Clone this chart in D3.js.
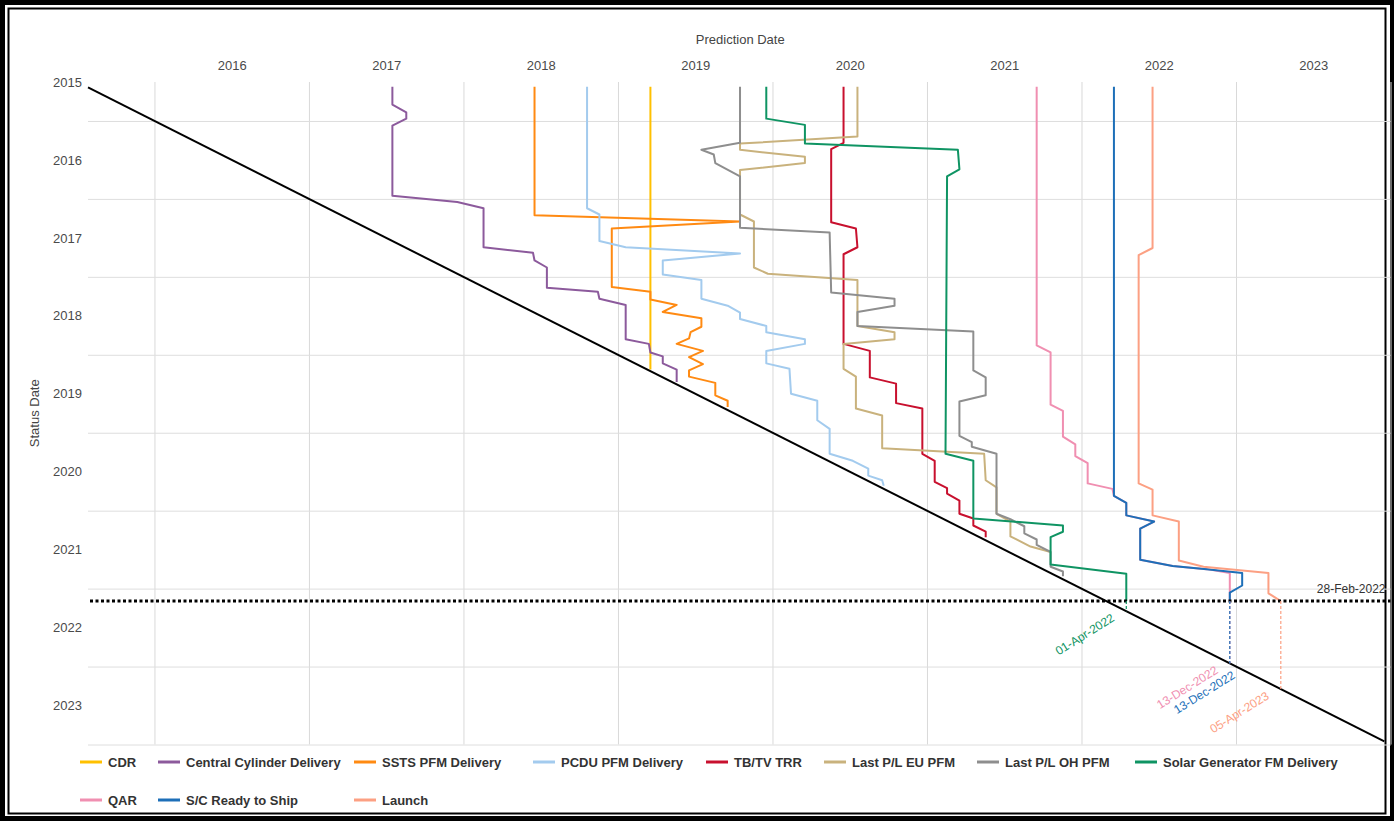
<!DOCTYPE html>
<html>
<head>
<meta charset="utf-8">
<script src="https://cdn.jsdelivr.net/npm/d3@7"></script>
<style>
  html, body { margin: 0; padding: 0; background: #000; }
  svg { display: block; font-family: "Liberation Sans", Arial, sans-serif; }
</style>
</head>
<body>
<svg id="chart" width="1394" height="821"></svg>
<script>
// all dates in decimal years, each point is [status date, predicted date]
var yearLabels = [2015, 2016, 2017, 2018, 2019, 2020, 2021, 2022, 2023]
var gridYears = [2016, 2017, 2018, 2019, 2020, 2021, 2022, 2023, 2024]

var seriesNames = ["CDR", "Central Cylinder Delivery", "SSTS PFM Delivery", "PCDU PFM Delivery",
    "TB/TV TRR", "Last P/L EU PFM", "Last P/L OH PFM", "Solar Generator FM Delivery",
    "QAR", "S/C Ready to Ship", "Launch"]
var seriesColors = ["#ffc000", "#8c5a9c", "#ff8a12", "#a3cbee", "#c8102e", "#c9b27d",
    "#8e8e8e", "#0f9463", "#f08fb1", "#1d6fb8", "#fca083"]

var cdr = [[2015.56,2019.21],[2019.19,2019.21]]
var centralCylinder = [[2015.56,2017.54],[2015.79,2017.54],[2015.89,2017.63],[2015.97,2017.63],[2016.06,2017.54],
    [2016.96,2017.54],[2017.04,2017.96],[2017.12,2018.13],[2017.62,2018.13],[2017.69,2018.45],[2017.79,2018.46],
    [2017.88,2018.54],[2018.14,2018.54],[2018.19,2018.87],[2018.28,2018.88],[2018.36,2019.05],[2018.80,2019.05],
    [2018.86,2019.20],[2018.97,2019.21],[2019.02,2019.29],[2019.11,2019.29],[2019.19,2019.38],[2019.35,2019.38]]
var sstsPfm = [[2015.56,2018.46],[2017.21,2018.46],[2017.29,2019.79],[2017.38,2018.96],[2018.13,2018.96],
    [2018.19,2019.21],[2018.29,2019.21],[2018.36,2019.38],[2018.45,2019.29],[2018.53,2019.54],[2018.64,2019.54],
    [2018.71,2019.47],[2018.79,2019.46],[2018.86,2019.38],[2018.95,2019.55],[2019.03,2019.46],[2019.12,2019.55],
    [2019.20,2019.46],[2019.28,2019.46],[2019.36,2019.63],[2019.52,2019.63],[2019.59,2019.71],[2019.67,2019.71]]
var pcduPfm = [[2015.56,2018.80],[2017.12,2018.80],[2017.20,2018.88],[2017.54,2018.88],[2017.62,2019.05],
    [2017.70,2019.79],[2017.79,2019.29],[2017.97,2019.29],[2018.04,2019.54],[2018.28,2019.54],[2018.37,2019.71],
    [2018.46,2019.79],[2018.54,2019.79],[2018.63,2019.96],[2018.71,2019.96],[2018.80,2020.21],[2018.86,2020.21],
    [2018.95,2019.96],[2019.11,2019.96],[2019.18,2020.11],[2019.50,2020.12],[2019.59,2020.29],[2019.84,2020.29],
    [2019.95,2020.37],[2020.27,2020.37],[2020.36,2020.52],[2020.46,2020.62],[2020.55,2020.62],[2020.61,2020.71],
    [2020.68,2020.72]]
var tbtvTrr = [[2015.56,2020.46],[2016.28,2020.46],[2016.36,2020.38],[2017.30,2020.38],[2017.38,2020.54],
    [2017.62,2020.55],[2017.71,2020.46],[2018.86,2020.46],[2018.95,2020.63],[2019.29,2020.63],[2019.37,2020.80],
    [2019.62,2020.80],[2019.69,2020.97],[2020.27,2020.97],[2020.36,2021.05],[2020.63,2021.05],[2020.71,2021.13],
    [2020.78,2021.13],[2020.87,2021.21],[2021.04,2021.21],[2021.10,2021.30],[2021.19,2021.30],[2021.27,2021.38],
    [2021.34,2021.38]]
var lastEuPfm = [[2015.56,2020.55],[2016.20,2020.55],[2016.29,2019.79],[2016.37,2019.79],[2016.46,2020.21],
    [2016.54,2020.21],[2016.63,2019.79],[2017.20,2019.79],[2017.29,2019.88],[2017.88,2019.88],[2017.96,2019.97],
    [2018.04,2020.55],[2018.63,2020.55],[2018.71,2020.79],[2018.80,2020.79],[2018.86,2020.46],[2019.18,2020.46],
    [2019.28,2020.54],[2019.69,2020.54],[2019.78,2020.71],[2020.20,2020.71],[2020.27,2021.37],[2020.61,2021.38],
    [2020.70,2021.45],[2021.04,2021.45],[2021.14,2021.54],[2021.33,2021.54],[2021.46,2021.67],[2021.53,2021.80]]
var lastOhPfm = [[2015.56,2019.79],[2016.28,2019.79],[2016.37,2019.54],[2016.43,2019.62],[2016.54,2019.63],
    [2016.71,2019.79],[2017.37,2019.79],[2017.43,2020.37],[2018.20,2020.38],[2018.28,2020.79],[2018.37,2020.79],
    [2018.45,2020.55],[2018.63,2020.55],[2018.70,2021.30],[2019.20,2021.30],[2019.29,2021.38],[2019.52,2021.38],
    [2019.60,2021.21],[2020.04,2021.21],[2020.12,2021.29],[2020.18,2021.29],[2020.27,2021.45],[2021.04,2021.45],
    [2021.11,2021.54],[2021.20,2021.63],[2021.29,2021.63],[2021.37,2021.71],[2021.44,2021.71],[2021.53,2021.80],
    [2021.72,2021.80],[2021.78,2021.88],[2021.84,2021.88]]
var solarGenerator = [[2015.56,2019.96],[2015.97,2019.96],[2016.05,2020.21],[2016.29,2020.21],[2016.37,2021.20],
    [2016.62,2021.21],[2016.71,2021.13],[2020.27,2021.12],[2020.36,2021.30],[2021.10,2021.30],[2021.19,2021.88],
    [2021.27,2021.88],[2021.34,2021.80],[2021.69,2021.80],[2021.81,2022.29],[2022.16,2022.29]]
var qar = [[2015.56,2021.71],[2018.88,2021.71],[2018.97,2021.80],[2019.64,2021.80],[2019.72,2021.88],
    [2020.05,2021.88],[2020.15,2021.96],[2020.30,2021.96],[2020.39,2022.04],[2020.65,2022.04],[2020.72,2022.20],
    [2020.81,2022.21],[2020.90,2022.29],[2021.06,2022.29],[2021.14,2022.47],[2021.23,2022.38],[2021.63,2022.38],
    [2021.71,2022.59],[2021.75,2022.81],[2021.80,2022.96],[2022.16,2022.96]]
var readyToShip = [[2015.56,2022.21],[2020.81,2022.21],[2020.90,2022.29],[2021.06,2022.29],[2021.14,2022.47],
    [2021.23,2022.38],[2021.63,2022.38],[2021.71,2022.59],[2021.75,2022.81],[2021.80,2023.04],[2021.96,2023.04],
    [2022.05,2022.96],[2022.16,2022.96]]
var launch = [[2015.56,2022.46],[2017.63,2022.46],[2017.72,2022.37],[2020.65,2022.37],[2020.73,2022.46],
    [2021.06,2022.46],[2021.14,2022.63],[2021.64,2022.63],[2021.72,2022.79],[2021.80,2023.21],[2022.06,2023.21],
    [2022.16,2023.29]]

var seriesData = [cdr, centralCylinder, sstsPfm, pcduPfm, tbtvTrr, lastEuPfm, lastOhPfm,
    solarGenerator, qar, readyToShip, launch]

var diagonal = [2015.57, 2023.96]   // status date = prediction date
var statusDate = 2022.16
var statusText = "28-Feb-2022"
// open milestones and the forecast date written at the diagonal
var openNames = ["Solar Generator FM Delivery", "QAR", "S/C Ready to Ship", "Launch"]
var openTexts = ["01-Apr-2022", "13-Dec-2022", "13-Dec-2022", "05-Apr-2023"]

var svg = d3.select("#chart")
var W = 1394, H = 821

// frame
svg.append("rect").attr("width", W).attr("height", H).attr("fill", "#000")
svg.append("rect").attr("x", 5).attr("y", 5).attr("width", W - 9).attr("height", H - 10).attr("fill", "#fff")
svg.append("rect").attr("x", 8.5).attr("y", 8.5).attr("width", W - 17).attr("height", H - 16)
    .attr("fill", "#fff").attr("stroke", "#000").attr("stroke-width", 2)

var plotLeft = 88, plotRight = 1390.5, plotTop = 82, plotBottom = 744.5
var x = d3.scaleLinear().domain([2015.57, 2024]).range([plotLeft, plotRight])
var y = d3.scaleLinear().domain([2015.5, 2024]).range([plotTop, plotBottom])

// grid lines
svg.append("g")
    .attr("transform", "translate(0," + plotBottom + ")")
    .call(d3.axisBottom(x).tickValues(gridYears).tickSize(-(plotBottom - plotTop)).tickFormat(""))
    .call(g => g.select(".domain").remove())
    .call(g => g.selectAll("line").attr("stroke", "#d9d9d9"))
svg.append("g")
    .attr("transform", "translate(" + plotLeft + ",0)")
    .call(d3.axisLeft(y).tickValues(gridYears).tickSize(-(plotRight - plotLeft)).tickFormat(""))
    .call(g => g.select(".domain").remove())
    .call(g => g.selectAll("line").attr("stroke", "#dedede"))

// year labels sit in the middle of each year
svg.append("g")
    .attr("transform", "translate(0,70)")
    .call(d3.axisTop(x).tickValues(yearLabels.filter(d => d >= 2016).map(d => d + 0.5))
        .tickFormat(d => Math.floor(d)).tickSize(0).tickPadding(0))
    .call(g => g.select(".domain").remove())
    .call(g => g.selectAll("text").attr("font-size", 13).attr("fill", "#4a4a4a")
        .attr("font-family", "Liberation Sans, Arial, sans-serif"))
svg.append("g")
    .attr("transform", "translate(82,0)")
    .call(d3.axisLeft(y).tickValues(yearLabels.map(d => d + 0.5))
        .tickFormat(d => Math.floor(d)).tickSize(0).tickPadding(0))
    .call(g => g.select(".domain").remove())
    .call(g => g.selectAll("text").attr("font-size", 13).attr("fill", "#4a4a4a")
        .attr("font-family", "Liberation Sans, Arial, sans-serif"))

svg.append("text").attr("x", (plotLeft + plotRight) / 2 + 1).attr("y", 44).attr("text-anchor", "middle")
    .attr("font-size", 13).attr("fill", "#444").text("Prediction Date")
svg.append("text").attr("transform", "translate(39," + ((plotTop + plotBottom) / 2) + ") rotate(-90)")
    .attr("text-anchor", "middle").attr("font-size", 13).attr("fill", "#444").text("Status Date")

var line = d3.line().x(d => x(d[1])).y(d => y(d[0]))

// series
svg.append("g").selectAll("path")
    .data(seriesData)
    .join("path")
    .attr("d", line)
    .attr("fill", "none")
    .attr("stroke", (d, i) => seriesColors[i])
    .attr("stroke-width", 2)
    .attr("stroke-linejoin", "round")

// status = prediction diagonal
svg.append("path")
    .attr("d", line([[diagonal[0], diagonal[0]], [diagonal[1], diagonal[1]]]))
    .attr("stroke", "#000").attr("stroke-width", 2).attr("fill", "none")

// current status date
svg.append("line")
    .attr("x1", plotLeft + 2).attr("x2", plotRight).attr("y1", y(statusDate)).attr("y2", y(statusDate))
    .attr("stroke", "#000").attr("stroke-width", 3).attr("stroke-dasharray", "3,2.5")
svg.append("text").attr("x", plotRight - 5).attr("y", y(statusDate) - 8).attr("text-anchor", "end")
    .attr("font-size", 12).attr("fill", "#333").text(statusText)

// drop lines from last forecast to the diagonal, with date labels
var seen = {}
openNames.forEach(function(name, k) {
    var i = seriesNames.indexOf(name)
    var data = seriesData[i]
    var pred = data[data.length - 1][1]
    svg.append("line")
        .attr("x1", x(pred)).attr("x2", x(pred))
        .attr("y1", y(statusDate)).attr("y2", y(pred))
        .attr("stroke", seriesColors[i]).attr("stroke-width", 1.2).attr("stroke-dasharray", "3,2")
    var n = seen[openTexts[k]] || 0
    seen[openTexts[k]] = n + 1
    var tx = x(pred) - 11 + n * 17
    var ty = y(pred) + 9 + n * 5
    svg.append("text")
        .attr("transform", "translate(" + tx + "," + ty + ") rotate(-32)")
        .attr("text-anchor", "end").attr("font-size", 12)
        .attr("fill", seriesColors[i]).text(openTexts[k])
})

// legend, 8 columns
var legendCols = [80, 158, 354, 533, 706, 824, 977, 1135]
var legendRows = [762, 800]
var legend = svg.append("g").selectAll("g")
    .data(seriesNames)
    .join("g")
    .attr("transform", (d, i) => "translate(" + legendCols[i % 8] + "," + legendRows[Math.floor(i / 8)] + ")")
legend.append("line").attr("x1", 0).attr("x2", 22).attr("y1", 0).attr("y2", 0)
    .attr("stroke", (d, i) => seriesColors[i]).attr("stroke-width", 3)
legend.append("text").attr("x", 28).attr("y", 4.5)
    .attr("font-size", 13).attr("font-weight", "bold").attr("fill", "#333").text(d => d)
</script>
</body>
</html>
